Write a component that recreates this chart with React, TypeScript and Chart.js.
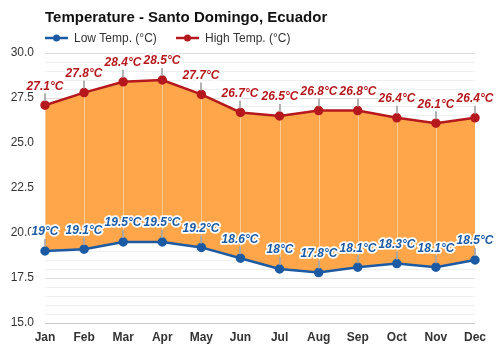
import React, { useEffect, useRef } from "react";
import { Chart, registerables } from "chart.js";

Chart.register(...registerables);

const months = ["Jan", "Feb", "Mar", "Apr", "May", "Jun", "Jul", "Aug", "Sep", "Oct", "Nov", "Dec"];
const lowTemps = [19, 19.1, 19.5, 19.5, 19.2, 18.6, 18, 17.8, 18.1, 18.3, 18.1, 18.5];
const highTemps = [27.1, 27.8, 28.4, 28.5, 27.7, 26.7, 26.5, 26.8, 26.8, 26.4, 26.1, 26.4];
const titleText = "Temperature - Santo Domingo, Ecuador";
const lowLabel = "Low Temp. (°C)";
const highLabel = "High Temp. (°C)";

const LOW_COLOR = "#1c5ba3";
const HIGH_COLOR = "#b5181d";
const FILL_COLOR = "#ffa64b";
const FONT = 'Arial, "Liberation Sans", sans-serif';

const fmt = (v: number) => `${v}°C`;

export default function App() {
  const ref = useRef<HTMLCanvasElement | null>(null);

  useEffect(() => {
    const canvas = ref.current;
    if (!canvas) return;

    const headerPlugin = {
      id: "header",
      afterDraw(chart: any) {
        const ctx = chart.ctx;
        ctx.save();
        ctx.font = `bold 15px ${FONT}`;
        ctx.fillStyle = "#111";
        ctx.textBaseline = "alphabetic";
        ctx.textAlign = "left";
        ctx.fillText(titleText, 45, 22);

        const drawItem = (x: number, color: string, text: string) => {
          ctx.strokeStyle = color;
          ctx.lineWidth = 2.5;
          ctx.beginPath();
          ctx.moveTo(x, 38);
          ctx.lineTo(x + 23, 38);
          ctx.stroke();
          ctx.fillStyle = color;
          ctx.beginPath();
          ctx.arc(x + 11.5, 38, 3.5, 0, Math.PI * 2);
          ctx.fill();
          ctx.font = `12px ${FONT}`;
          ctx.fillStyle = "#333";
          ctx.textBaseline = "middle";
          ctx.fillText(text, x + 29, 38.5);
        };
        drawItem(45, LOW_COLOR, lowLabel);
        drawItem(176, HIGH_COLOR, highLabel);
        ctx.restore();
      },
    };

    const fillLinesPlugin = {
      id: "fillLines",
      beforeDatasetsDraw(chart: any) {
        const ctx = chart.ctx;
        const lowMeta = chart.getDatasetMeta(0);
        const highMeta = chart.getDatasetMeta(1);
        ctx.save();
        ctx.strokeStyle = "rgba(255,255,255,0.4)";
        ctx.lineWidth = 1;
        for (let i = 0; i < months.length; i++) {
          const l = lowMeta.data[i];
          const h = highMeta.data[i];
          if (!l || !h) continue;
          const x = Math.round(l.x) + 0.5;
          ctx.beginPath();
          ctx.moveTo(x, h.y);
          ctx.lineTo(x, l.y);
          ctx.stroke();
        }
        ctx.restore();
      },
    };

    const labelsPlugin = {
      id: "pointLabels",
      afterDatasetsDraw(chart: any) {
        const ctx = chart.ctx;
        ctx.save();
        const sets = [
          { idx: 0, data: lowTemps, color: LOW_COLOR },
          { idx: 1, data: highTemps, color: HIGH_COLOR },
        ];
        ctx.font = `italic bold 12px ${FONT}`;
        ctx.textAlign = "center";
        ctx.textBaseline = "middle";
        for (const s of sets) {
          const meta = chart.getDatasetMeta(s.idx);
          meta.data.forEach((pt: any, i: number) => {
            const x = Math.round(pt.x);
            const y = pt.y;
            ctx.strokeStyle = "rgba(165,165,165,0.85)";
            ctx.lineWidth = 2;
            ctx.beginPath();
            ctx.moveTo(x, y - 4);
            ctx.lineTo(x, y - 12);
            ctx.stroke();
            const t = fmt(s.data[i]);
            ctx.lineJoin = "round";
            ctx.strokeStyle = "#fff";
            ctx.lineWidth = 3.5;
            ctx.strokeText(t, x, y - 19);
            ctx.fillStyle = s.color;
            ctx.fillText(t, x, y - 19);
          });
        }
        ctx.restore();
      },
    };

    const chart = new Chart(canvas, {
      type: "line",
      data: {
        labels: months,
        datasets: [
          {
            label: lowLabel,
            data: lowTemps,
            borderColor: LOW_COLOR,
            backgroundColor: LOW_COLOR,
            pointBackgroundColor: LOW_COLOR,
            pointBorderColor: LOW_COLOR,
            borderWidth: 2.5,
            pointRadius: 3.5,
            fill: false,
            tension: 0,
          },
          {
            label: highLabel,
            data: highTemps,
            borderColor: HIGH_COLOR,
            backgroundColor: FILL_COLOR,
            pointBackgroundColor: HIGH_COLOR,
            pointBorderColor: HIGH_COLOR,
            borderWidth: 2.5,
            pointRadius: 3.5,
            fill: 0,
            tension: 0,
          },
        ],
      },
      options: {
        animation: false,
        responsive: false,
        maintainAspectRatio: false,
        layout: { padding: { top: 53, right: 25, left: 0, bottom: 0 } },
        plugins: {
          legend: { display: false },
          title: { display: false },
          tooltip: { enabled: false },
          filler: { drawTime: "beforeDatasetsDraw" },
        } as any,
        scales: {
          x: {
            offset: false,
            grid: { display: false, drawTicks: false },
            border: { display: false },
            ticks: {
              color: "#333",
              font: { family: FONT, size: 12, weight: "bold" },
              padding: 7,
              maxRotation: 0,
            },
            afterFit(scale: any) {
              scale.height = 27;
            },
          },
          y: {
            min: 15,
            max: 30,
            border: { display: false },
            grid: {
              drawTicks: false,
              color: (c: any) => {
                const v = c.tick ? c.tick.value : 0;
                if (Math.abs(v - 15) < 1e-6) return "#c8c8c8";
                return Math.abs(v / 2.5 - Math.round(v / 2.5)) < 1e-6 ? "#dedede" : "#efefef";
              },
            },
            ticks: {
              stepSize: 0.5,
              autoSkip: false,
              color: "#333",
              padding: 11,
              font: { family: FONT, size: 12 },
              callback: (v: any) => {
                const n = Number(v);
                return Math.abs(n / 2.5 - Math.round(n / 2.5)) < 1e-6 ? n.toFixed(1) : "";
              },
            },
            afterFit(scale: any) {
              scale.width = 45;
            },
          },
        },
      },
      plugins: [fillLinesPlugin, labelsPlugin, headerPlugin],
    });

    return () => chart.destroy();
  }, []);

  return (
    <div style={{ position: "fixed", left: 0, top: 0, width: 500, height: 350, background: "#fff" }}>
      <canvas ref={ref} width={500} height={350} style={{ display: "block" }} />
    </div>
  );
}
